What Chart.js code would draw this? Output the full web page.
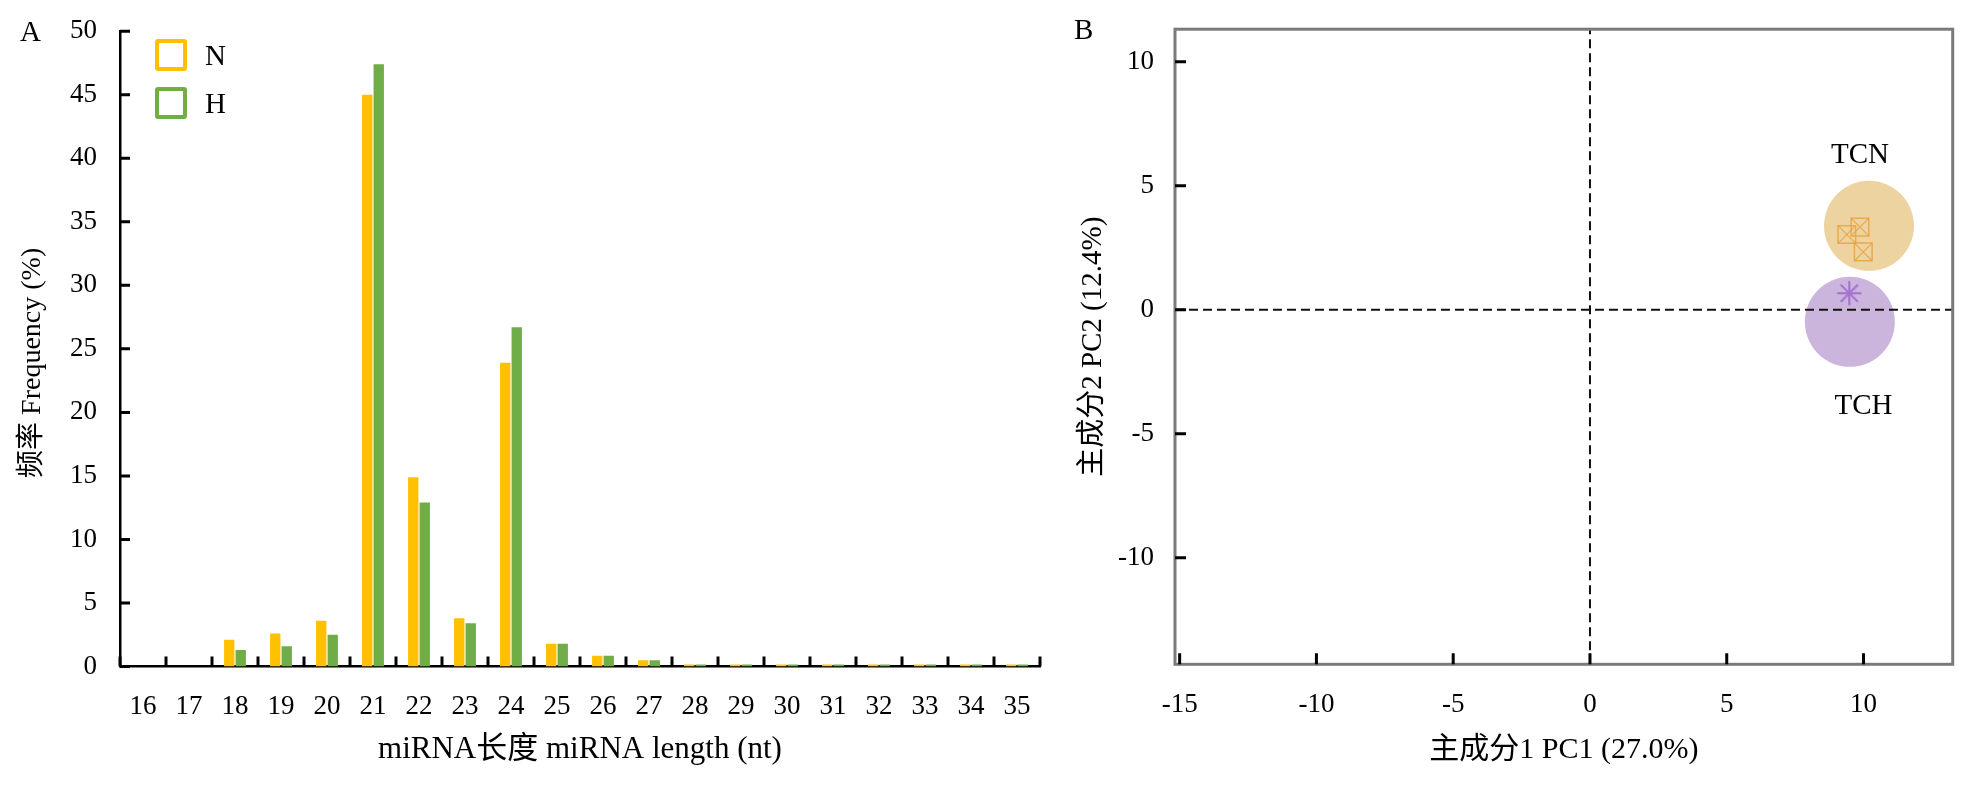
<!DOCTYPE html>
<html>
<head>
<meta charset="utf-8">
<title>miRNA length / PCA</title>
<script src="https://cdn.jsdelivr.net/npm/chart.js@4.4.0/dist/chart.umd.min.js"></script>
<style>
  html, body { margin: 0; padding: 0; background: #fff; }
  #wrap { position: relative; width: 1976px; height: 786px; font-family: "Liberation Serif", "Noto Sans CJK SC", serif; color: #000; }
  canvas { position: absolute; top: 0; }
  #chartA { left: 0; }
  #chartB { left: 1040px; }
  .panel { position: absolute; font-size: 29px; line-height: 29px; }
  .legend { position: absolute; left: 155px; font-size: 29px; line-height: 29px; display: flex; align-items: center; }
  .legend i { display: inline-block; width: 24px; height: 24px; border: 4px solid; border-radius: 3px; margin-right: 18px; }
</style>
</head>
<body>
<div id="wrap">
  <canvas id="chartA" width="1050" height="786"></canvas>
  <canvas id="chartB" width="936" height="786"></canvas>
  <div class="panel" style="left:20px;top:17px">A</div>
  <div class="panel" style="left:1074px;top:15px">B</div>
  <div class="legend" style="top:39px"><i style="border-color:#FFC000"></i>N</div>
  <div class="legend" style="top:87px"><i style="border-color:#70AD47"></i>H</div>
</div>
<script>
// ===== DATA: panel A =====
const lengths = ["16", "17", "18", "19", "20", "21", "22", "23", "24", "25",
                 "26", "27", "28", "29", "30", "31", "32", "33", "34", "35"];
const freqN = [0, 0, 2.1, 2.6, 3.6, 45.0, 14.9, 3.8, 23.9, 1.8,
               0.85, 0.5, 0.15, 0.15, 0.15, 0.15, 0.15, 0.15, 0.15, 0.15];
const freqH = [0, 0, 1.3, 1.6, 2.5, 47.4, 12.9, 3.4, 26.7, 1.8,
               0.85, 0.5, 0.15, 0.15, 0.15, 0.15, 0.15, 0.15, 0.15, 0.15];

// ===== DATA: panel B =====
const pcaTCN = [{ x: 9.39, y: 3.03 }, { x: 9.87, y: 3.33 }, { x: 9.99, y: 2.33 }];
const pcaTCH = [{ x: 9.46, y: 0.66 }, { x: 9.48, y: 0.68 }, { x: 9.5, y: 0.64 }];
const ellipseTCN = [{ x: 10.2, y: 3.38 }];
const ellipseTCH = [{ x: 9.5, y: -0.49 }];
const groupLabels = [
  { text: "TCN", x: 9.87, y: 6.24 },
  { text: "TCH", x: 10.0, y: -3.89 }
];

const FONT = '"Liberation Serif", "Noto Sans CJK SC", serif';
Chart.defaults.font.family = FONT;
Chart.defaults.color = "#000";
Chart.defaults.animation = false;

// inward tick marks (ticks of the original point into the plot)
const inwardTicks = {
  id: "inwardTicks",
  afterDraw(chart, args, opts) {
    const { ctx, chartArea: a } = chart;
    const xs = chart.scales.x, ys = chart.scales.y;
    const len = opts.length || 11;
    ctx.save();
    ctx.strokeStyle = "#000";
    ctx.lineWidth = opts.width || 3;
    ctx.beginPath();
    if (opts.between) {
      for (let i = 0; i <= xs.ticks.length; i++) {
        const px = xs.getPixelForValue(i - 0.5);
        ctx.moveTo(px, a.bottom); ctx.lineTo(px, a.bottom - len);
      }
    } else {
      xs.ticks.forEach(t => {
        const px = xs.getPixelForValue(t.value);
        ctx.moveTo(px, a.bottom); ctx.lineTo(px, a.bottom - len);
      });
    }
    ys.ticks.forEach(t => {
      const py = ys.getPixelForValue(t.value);
      ctx.moveTo(a.left, py); ctx.lineTo(a.left + len, py);
    });
    ctx.stroke();
    ctx.restore();
  }
};

// frame, dashed zero lines and group names for the PCA panel
const pcaDecor = {
  id: "pcaDecor",
  afterDatasetsDraw(chart) {
    const { ctx, chartArea: a } = chart;
    const xs = chart.scales.x, ys = chart.scales.y;
    const x0 = xs.getPixelForValue(0), y0 = ys.getPixelForValue(0);
    ctx.save();
    ctx.strokeStyle = "#111";
    ctx.lineWidth = 2;
    ctx.setLineDash([9, 5]);
    ctx.beginPath();
    ctx.moveTo(x0, a.bottom); ctx.lineTo(x0, a.top);
    ctx.moveTo(a.left, y0); ctx.lineTo(a.right, y0);
    ctx.stroke();
    ctx.setLineDash([]);
    ctx.strokeStyle = "#7a7a7a";
    ctx.lineWidth = 3;
    ctx.strokeRect(a.left, a.top, a.right - a.left, a.bottom - a.top);
    ctx.fillStyle = "#000";
    ctx.font = "29px " + FONT;
    ctx.textAlign = "center";
    ctx.textBaseline = "middle";
    groupLabels.forEach(g => {
      ctx.fillText(g.text, xs.getPixelForValue(g.x), ys.getPixelForValue(g.y));
    });
    ctx.restore();
  }
};

// ===== PANEL A =====
new Chart(document.getElementById("chartA"), {
  type: "bar",
  data: {
    labels: lengths,
    datasets: [
      { label: "N", data: freqN, backgroundColor: "#FFC000" },
      { label: "H", data: freqH, backgroundColor: "#70AD47" }
    ]
  },
  options: {
    responsive: false,
    categoryPercentage: 0.5,
    barPercentage: 0.9,
    layout: { autoPadding: false, padding: { top: 29.5, right: 10, left: 0, bottom: 0 } },
    plugins: {
      legend: { display: false },
      tooltip: { enabled: false },
      inwardTicks: { between: true, length: 10, width: 3 }
    },
    scales: {
      x: {
        grid: { display: false },
        border: { color: "#000", width: 2.5 },
        ticks: { font: { size: 27 }, padding: 16, maxRotation: 0, autoSkip: false },
        title: { display: true, text: "miRNA长度 miRNA length (nt)", font: { size: 31 }, padding: { top: 0, bottom: 17.4 } },
        afterFit(s) { s.height = 119.5; }
      },
      y: {
        min: 0, max: 50,
        grid: { display: false },
        border: { color: "#000", width: 2.5 },
        ticks: { stepSize: 5, font: { size: 27 }, padding: 15 },
        // trailing spaces nudge the rotated title down like in the original
        title: { display: true, text: "频率 Frequency (%)\u00a0\u00a0\u00a0\u00a0", font: { size: 28 }, padding: { top: 16.2, bottom: 0 } },
        afterFit(s) { s.width = 120; }
      }
    }
  },
  plugins: [inwardTicks]
});

// ===== PANEL B =====
new Chart(document.getElementById("chartB"), {
  type: "scatter",
  data: {
    datasets: [
      { data: ellipseTCN, pointRadius: 45, backgroundColor: "#EDD3A0", borderWidth: 0, order: 3 },
      { data: ellipseTCH, pointRadius: 45, backgroundColor: "#CBB5DD", borderWidth: 0, order: 3 },
      { data: pcaTCN, pointStyle: "rect", pointRadius: 12.5, backgroundColor: "transparent",
        borderColor: "rgba(232,160,60,0.8)", borderWidth: 1.5, order: 2 },
      { data: pcaTCN, pointStyle: "crossRot", pointRadius: 12.5, backgroundColor: "transparent",
        borderColor: "rgba(232,160,60,0.8)", borderWidth: 1.2, order: 2 },
      { data: pcaTCH, pointStyle: "star", pointRadius: 12, backgroundColor: "transparent",
        borderColor: "rgba(160,110,205,0.6)", borderWidth: 1.5, order: 2 }
    ]
  },
  options: {
    responsive: false,
    layout: { autoPadding: false, padding: { top: 24, right: 23.3, left: 0, bottom: 0 } },
    plugins: {
      legend: { display: false },
      tooltip: { enabled: false },
      inwardTicks: { length: 11, width: 3 }
    },
    scales: {
      x: {
        type: "linear", min: -15.17, max: 13.26,
        grid: { display: false },
        border: { display: false },
        ticks: { stepSize: 5, includeBounds: false, font: { size: 27 }, padding: 16 },
        title: { display: true, text: "主成分1 PC1 (27.0%)", font: { size: 30 }, padding: { top: 0, bottom: 18 } },
        afterFit(s) { s.height = 121.7; }
      },
      y: {
        type: "linear", min: -14.3, max: 11.31,
        grid: { display: false },
        border: { display: false },
        ticks: { stepSize: 5, includeBounds: false, font: { size: 27 }, padding: 13 },
        title: { display: true, text: "主成分2 PC2 (12.4%)", font: { size: 29 }, padding: { top: 35.6, bottom: 0 } },
        afterFit(s) { s.width = 135; }
      }
    }
  },
  plugins: [inwardTicks, pcaDecor]
});
</script>
</body>
</html>
